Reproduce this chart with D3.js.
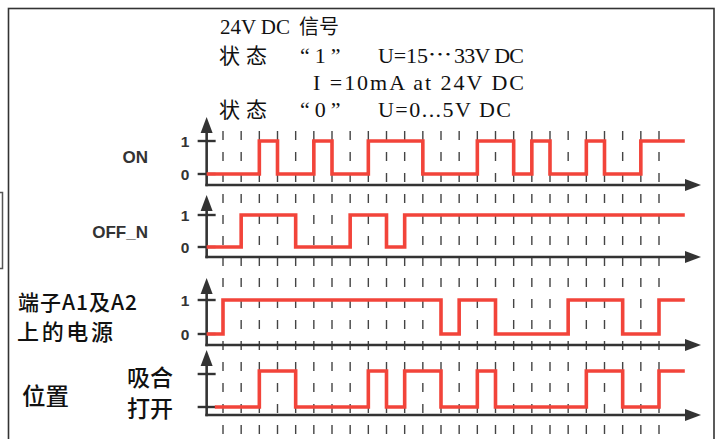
<!DOCTYPE html>
<html><head><meta charset="utf-8">
<script src="https://cdn.jsdelivr.net/npm/d3@7"></script>
<style>
html,body{margin:0;padding:0;background:#fff;}
svg{display:block;}
</style></head>
<body>
<svg id="c" width="720" height="439"></svg>
<script>
// ---- data ----
const gridTicks = d3.range(0, 25);              // 25 dashed time lines
const signalNames = ["ON", "OFF_N", "power", "position"];
const onEdges       = [2,3,5,6,8,11,14,16,17,18,20,21,23];
const offNEdges     = [1,4,7,9,10];
const powerEdges    = [0,12,13,15,19,22,24];
const positionEdges = [2,4,8,9,10,12,14,15,20,22,24];
const initialLevels = [0,0,0,0];
const levelLabels   = [["1","0"],["1","0"],["1","0"],["",""]];
const headerLines = [
  ["24V DC", "信号"],
  ["状态", "“1”", "U=15", "…", "33V DC"],
  ["I =10mA at 24V DC"],
  ["状态", "“0”", "U=0...5V DC"]
];
const sideLabels = ["端子A1及A2", "上的电源", "位置", "吸合", "打开"];

const svg = d3.select("#c");
const x = d3.scaleLinear().domain([0, 24]).range([223, 659]);
const tStart = -0.9, tEnd = 25.42;

// frame
svg.append("rect").attr("x",8.5).attr("y",8.5).attr("width",705.5).attr("height",460)
  .attr("fill","none").attr("stroke","#333").attr("stroke-width",1.6);
svg.append("path").attr("d","M-2,192.5 H2.5 V268.5 H-2")
  .attr("fill","none").attr("stroke","#555").attr("stroke-width",1.5);

// header text
const latin = "'Liberation Serif', serif", cjk = "'Noto Sans CJK SC', sans-serif";
function t(txt, xx, yy, len, font, size, adj){
  const e = svg.append("text").attr("x",xx).attr("y",yy).text(txt)
    .attr("font-family",font).attr("font-size",size).attr("fill","#111");
  if(len) e.attr("textLength",len).attr("lengthAdjust",adj || "spacing");
  return e;
}
const hb = [34, 63, 90, 117];
t(headerLines[0][0], 220, hb[0], 70, latin, 21);
t(headerLines[0][1], 299, hb[0], null, cjk, 20);
t(headerLines[1][0], 219, hb[1], 48, cjk, 21);
t(headerLines[1][1], 300, hb[1], null, latin, 22).attr("letter-spacing", 5);
t(headerLines[1][2], 378, hb[1], 50, latin, 22);
t(headerLines[1][3], 428, hb[1] - 1, 24, cjk, 20, "spacingAndGlyphs");
t(headerLines[1][4], 454, hb[1], 70, latin, 22);
t(headerLines[2][0], 313, hb[2], 211, latin, 22);
t(headerLines[3][0], 219, hb[3], 48, cjk, 21);
t(headerLines[3][1], 300, hb[3], null, latin, 22).attr("letter-spacing", 5);
t(headerLines[3][2], 378, hb[3], 133, latin, 22);

// dashed grid
svg.append("g").selectAll("line").data(gridTicks).join("line")
  .attr("x1", d => x(d)).attr("x2", d => x(d))
  .attr("y1", 131).attr("y2", 445)
  .attr("stroke","#444").attr("stroke-width",1.4).attr("stroke-dasharray","9,12");

// rows
const rows = [
  {edges:onEdges, tip:117, hi:141, lo:174, axis:185},
  {edges:offNEdges, tip:195, hi:215, lo:247, axis:257},
  {edges:powerEdges, tip:278, hi:300, lo:334, axis:345},
  {edges:positionEdges, tip:350, hi:371, lo:407, axis:415, start:-0.45}
];
const ax0 = x(tStart);
rows.forEach((r, i) => {
  const y = d3.scaleLinear().domain([0,1]).range([r.lo, r.hi]);
  const g = svg.append("g");
  // y axis
  g.append("line").attr("x1",ax0).attr("x2",ax0).attr("y1",r.tip+12).attr("y2",r.axis+1.2)
    .attr("stroke","#333").attr("stroke-width",2.6);
  g.append("path").attr("d",`M${ax0},${r.tip} L${ax0-6},${r.tip+16} L${ax0+6},${r.tip+16} Z`).attr("fill","#333");
  // x axis
  g.append("line").attr("x1",ax0-1.3).attr("x2",690).attr("y1",r.axis).attr("y2",r.axis)
    .attr("stroke","#333").attr("stroke-width",2.6);
  g.append("path").attr("d",`M701,${r.axis} L685,${r.axis-6} L685,${r.axis+6} Z`).attr("fill","#333");
  // level ticks
  const tickY = i===3 ? [374, 407] : [r.hi, r.lo];
  g.selectAll(".tk").data(tickY).join("line")
    .attr("x1",ax0-9).attr("x2",ax0+9).attr("y1",d=>d).attr("y2",d=>d)
    .attr("stroke","#333").attr("stroke-width",2.4);
  g.selectAll(".lb").data(levelLabels[i]).join("text")
    .attr("x",185).attr("y",(d,k)=>tickY[k]+5.5).attr("text-anchor","middle")
    .attr("font-family","'Liberation Sans', Arial, sans-serif").attr("font-weight","bold")
    .attr("font-size",15.5).attr("fill","#333").text(d=>d);
  // signal
  const pts = [];
  let lvl = initialLevels[i];
  pts.push([r.start !== undefined ? r.start : tStart, lvl]);
  r.edges.forEach(e => { lvl = 1 - lvl; pts.push([e, lvl]); });
  pts.push([tEnd, lvl]);
  const line = d3.line().x(d=>x(d[0])).y(d=>y(d[1])).curve(d3.curveStepAfter);
  g.append("path").attr("d", line(pts)).attr("fill","none")
    .attr("stroke","#f2443a").attr("stroke-width",3.6).attr("stroke-linejoin","miter");
});

// row labels
const sans = "'Liberation Sans', Arial, sans-serif";
svg.append("text").attr("x",148).attr("y",163).attr("text-anchor","end").attr("font-family",sans)
  .attr("font-weight","bold").attr("font-size",17).attr("fill","#333").text(signalNames[0]);
svg.append("text").attr("x",148).attr("y",238).attr("text-anchor","end").attr("font-family",sans)
  .attr("font-weight","bold").attr("font-size",17).attr("fill","#333").text(signalNames[1]);
t(sideLabels[0], 18, 310, 119, cjk, 21).attr("font-weight",500);
t(sideLabels[1], 17, 340, 96, cjk, 22).attr("font-weight",500);
t(sideLabels[2], 22, 405, null, cjk, 23.5).attr("font-weight",500);
t(sideLabels[3], 127, 386, null, cjk, 23).attr("font-weight",500);
t(sideLabels[4], 127, 417, null, cjk, 23).attr("font-weight",500);
</script>
</body></html>
